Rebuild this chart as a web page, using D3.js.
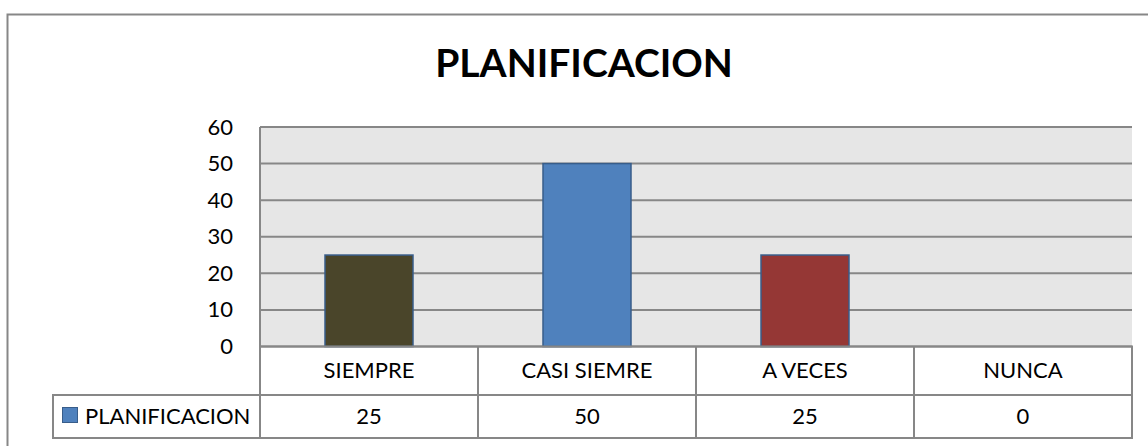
<!DOCTYPE html>
<html>
<head>
<meta charset="utf-8">
<script src="https://cdn.jsdelivr.net/npm/d3@7"></script>
<style>
  body { margin: 0; background: #fff; }
  svg { display: block; font-family: Lato, "Open Sans", sans-serif; }
</style>
</head>
<body>
<script>
// data
const title = "PLANIFICACION";
const seriesName = "PLANIFICACION";
const categories = ["SIEMPRE", "CASI SIEMRE", "A VECES", "NUNCA"];
const values = [25, 50, 25, 0];
const yTicks = [0, 10, 20, 30, 40, 50, 60];
const barColors = ["#4a452a", "#4f81bd", "#953735", "#4f81bd"];

const W = 1148, H = 446;
const plot = {left: 260, right: 1132, top: 127, bottom: 346.5};
const rowH = [48.5, 43]; // category row, value row
const grid = "#878787";

const svg = d3.select("body").append("svg")
    .attr("width", W)
    .attr("height", H);

// outer chart frame (runs off the right and bottom of the picture)
svg.append("rect")
    .attr("x", 7.5).attr("y", 14.5)
    .attr("width", 1200).attr("height", 500)
    .attr("fill", "#fff")
    .attr("stroke", grid)
    .attr("stroke-width", 2);

svg.append("text")
    .attr("x", 584).attr("y", 77)
    .attr("text-anchor", "middle")
    .attr("font-weight", "bold")
    .attr("font-size", 39)
    .attr("fill", "#000")
    .text(title);

const x = d3.scaleBand()
    .domain(categories)
    .range([plot.left, plot.right])
    .paddingInner(0)
    .paddingOuter(0);

const y = d3.scaleLinear()
    .domain([0, 60])
    .range([plot.bottom, plot.top]);

// plot background
svg.append("rect")
    .attr("x", plot.left).attr("y", plot.top)
    .attr("width", plot.right - plot.left)
    .attr("height", plot.bottom - plot.top)
    .attr("fill", "#e6e6e6");

// gridlines
svg.append("g")
    .selectAll("line")
    .data(yTicks)
    .join("line")
    .attr("x1", plot.left).attr("x2", plot.right)
    .attr("y1", d => y(d)).attr("y2", d => y(d))
    .attr("stroke", grid)
    .attr("stroke-width", 2);

svg.append("line")
    .attr("x1", plot.left).attr("x2", plot.left)
    .attr("y1", plot.top).attr("y2", plot.bottom)
    .attr("stroke", grid)
    .attr("stroke-width", 2);

// y axis labels
const yAxis = svg.append("g")
    .attr("transform", "translate(" + (plot.left - 27) + ",0)")
    .call(d3.axisLeft(y).tickValues(yTicks).tickSize(0).tickPadding(0));
yAxis.select(".domain").remove();
yAxis.selectAll("text")
    .attr("font-family", "Lato, 'Open Sans', sans-serif")
    .attr("font-size", 22)
    .attr("fill", "#000");

// bars
const bw = 88;
svg.append("g")
    .selectAll("rect")
    .data(values)
    .join("rect")
    .attr("x", (d, i) => x(categories[i]) + x.bandwidth() / 2 - bw / 2)
    .attr("y", d => y(d))
    .attr("width", bw)
    .attr("height", d => y(0) - y(d))
    .attr("fill", (d, i) => barColors[i])
    .attr("stroke", "#385d8a")
    .attr("stroke-width", d => d > 0 ? 1.5 : 0);

// data table under the chart
const t0 = plot.bottom, t1 = t0 + rowH[0], t2 = t1 + rowH[1];
const tbl = svg.append("g")
    .attr("fill", "none")
    .attr("stroke", grid)
    .attr("stroke-width", 2);

tbl.append("rect")
    .attr("x", plot.left).attr("y", t0)
    .attr("width", plot.right - plot.left).attr("height", t2 - t0);
tbl.append("rect")
    .attr("x", 53).attr("y", t1)
    .attr("width", plot.right - 53).attr("height", t2 - t1);
tbl.selectAll("line.sep")
    .data(categories.slice(1))
    .join("line")
    .attr("class", "sep")
    .attr("x1", d => x(d)).attr("x2", d => x(d))
    .attr("y1", t0).attr("y2", t2);

svg.append("g")
    .selectAll("text")
    .data(categories)
    .join("text")
    .attr("x", d => x(d) + x.bandwidth() / 2)
    .attr("y", (t0 + t1) / 2)
    .attr("dy", "0.35em")
    .attr("text-anchor", "middle")
    .attr("font-size", 22)
    .text(d => d);

svg.append("g")
    .selectAll("text")
    .data(values)
    .join("text")
    .attr("x", (d, i) => x(categories[i]) + x.bandwidth() / 2)
    .attr("y", (t1 + t2) / 2)
    .attr("dy", "0.35em")
    .attr("text-anchor", "middle")
    .attr("font-size", 22)
    .text(d => d);

// legend key in the table
svg.append("rect")
    .attr("x", 62.5).attr("y", 407.5)
    .attr("width", 15).attr("height", 15)
    .attr("fill", barColors[1])
    .attr("stroke", "#385d8a");
svg.append("text")
    .attr("x", 85).attr("y", (t1 + t2) / 2)
    .attr("dy", "0.35em")
    .attr("font-size", 22)
    .text(seriesName);
</script>
</body>
</html>
